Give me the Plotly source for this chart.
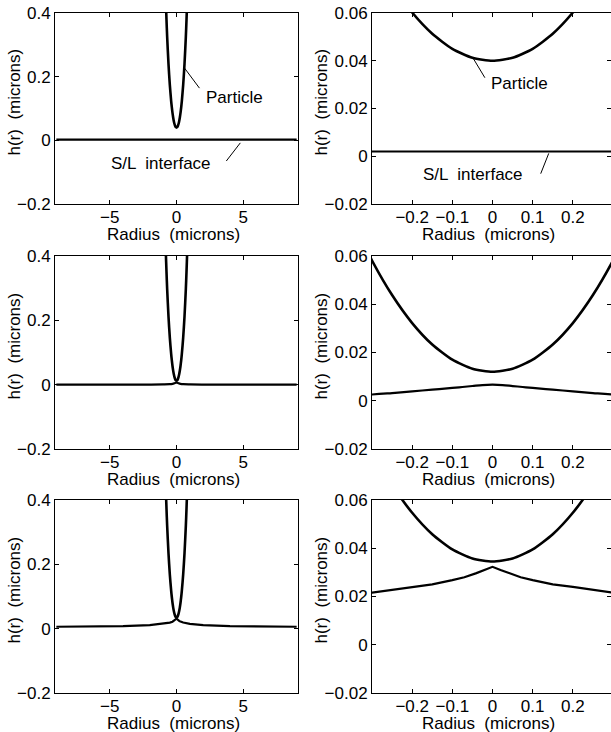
import plotly.graph_objects as go

# ---------------- data ----------------
# particle profile: radius (microns) and height above its lowest point (microns)
PARTICLE_R = [-0.85, -0.80, -0.75, -0.70, -0.60, -0.50, -0.40, -0.35, -0.30, -0.25, -0.20, -0.15, -0.10, -0.05,
              0.0, 0.05, 0.10, 0.15, 0.20, 0.25, 0.30, 0.35, 0.40, 0.50, 0.60, 0.70, 0.75, 0.80, 0.85]
PARTICLE_DEPTH = [0.473, 0.400, 0.339, 0.286, 0.200, 0.134, 0.0835, 0.0632, 0.0461, 0.0318, 0.0202, 0.0113, 0.0050, 0.00125,
                  0.0, 0.00125, 0.0050, 0.0113, 0.0202, 0.0318, 0.0461, 0.0632, 0.0835, 0.134, 0.200, 0.286, 0.339, 0.400, 0.473]
# lowest point of the particle in each row (microns)
PARTICLE_GAP = [0.040, 0.012, 0.0345]

# S/L interface, one profile per row
IFACE1_R = [-9.0, 0.0, 9.0]
IFACE1_H = [0.002, 0.002, 0.002]

IFACE2_R = [-9.0, -6.0, -4.0, -2.0, -1.0, -0.5, -0.3, -0.25, -0.2, -0.15, -0.1, -0.075, -0.05, -0.025, 0.0,
            0.025, 0.05, 0.075, 0.1, 0.15, 0.2, 0.25, 0.3, 0.5, 1.0, 2.0, 4.0, 6.0, 9.0]
IFACE2_H = [0.0, 0.0001, 0.0002, 0.0004, 0.0008, 0.0015, 0.0026, 0.0032, 0.0039, 0.0046, 0.0053, 0.0057, 0.0061, 0.0065, 0.0067,
            0.0065, 0.0061, 0.0057, 0.0053, 0.0046, 0.0039, 0.0032, 0.0026, 0.0015, 0.0008, 0.0004, 0.0002, 0.0001, 0.0]

IFACE3_R = [-9.0, -6.0, -4.0, -2.0, -1.0, -0.5, -0.3, -0.25, -0.2, -0.15, -0.1, -0.07, -0.04, -0.02, 0.0,
            0.02, 0.04, 0.07, 0.1, 0.15, 0.2, 0.25, 0.3, 0.5, 1.0, 2.0, 4.0, 6.0, 9.0]
IFACE3_H = [0.006, 0.007, 0.008, 0.011, 0.015, 0.019, 0.0216, 0.0228, 0.0240, 0.0250, 0.0268, 0.0280, 0.0297, 0.0310, 0.0323,
            0.0310, 0.0297, 0.0280, 0.0268, 0.0250, 0.0240, 0.0228, 0.0216, 0.019, 0.015, 0.011, 0.008, 0.007, 0.006]

IFACES = [(IFACE1_R, IFACE1_H, "linear"), (IFACE2_R, IFACE2_H, "spline"), (IFACE3_R, IFACE3_H, "linear")]

LEFT_XTICKS = [-5, 0, 5]
LEFT_XTICKTEXT = ["\u22125", "0", "5"]
LEFT_YTICKS = [-0.2, 0, 0.2, 0.4]
LEFT_YTICKTEXT = ["\u22120.2", "0", "0.2", "0.4"]
RIGHT_XTICKS = [-0.2, -0.1, 0, 0.1, 0.2]
RIGHT_XTICKTEXT = ["\u22120.2", "\u22120.1", "0", "0.1", "0.2"]
RIGHT_YTICKS = [-0.02, 0, 0.02, 0.04, 0.06]
RIGHT_YTICKTEXT = ["\u22120.02", "0", "0.02", "0.04", "0.06"]

X_TITLE = "Radius  (microns)"
Y_TITLE = "h(r)  (microns)"

# ---------------- layout geometry ----------------
W, H = 611, 732
FONT = "Liberation Sans, Arial, Helvetica, sans-serif"
FS = 17

left_px = (55, 298)
right_px = (372, 613)
rows_px = [(13, 204), (256, 449), (500, 693)]
ytitle_x = [14, 321]


def xdom(px):
    return [px[0] / W, min(px[1] / W, 1.0)]


def ydom(py):
    return [1 - py[1] / H, 1 - py[0] / H]


fig = go.Figure()
layout = dict(
    width=W, height=H, margin=dict(l=0, r=0, t=0, b=0, pad=0, autoexpand=False),
    paper_bgcolor="white", plot_bgcolor="white", showlegend=False,
    font=dict(family=FONT, size=FS, color="black"),
)

annotations = []
shapes = []

axis_common = dict(showgrid=False, zeroline=False, showline=True, linecolor="black", linewidth=1,
                   mirror="ticks", ticks="inside", ticklen=4, tickcolor="black", tickwidth=1,
                   automargin=False, ticklabeloverflow="allow",
                   tickfont=dict(family=FONT, size=FS, color="black"), fixedrange=True)

for row in range(3):
    for col in range(2):
        idx = row * 2 + col + 1
        xa = "x" if idx == 1 else f"x{idx}"
        ya = "y" if idx == 1 else f"y{idx}"
        xkey = "xaxis" if idx == 1 else f"xaxis{idx}"
        ykey = "yaxis" if idx == 1 else f"yaxis{idx}"
        px = left_px if col == 0 else right_px
        py = rows_px[row]
        if col == 0:
            xr, yr = [-9.1, 9.1], [-0.2, 0.4]
            xt, xtt, yt, ytt = LEFT_XTICKS, LEFT_XTICKTEXT, LEFT_YTICKS, LEFT_YTICKTEXT
        else:
            xr, yr = [-0.3, 0.295], [-0.02, 0.06]
            xt, xtt, yt, ytt = RIGHT_XTICKS, RIGHT_XTICKTEXT, RIGHT_YTICKS, RIGHT_YTICKTEXT
        layout[xkey] = dict(axis_common, domain=xdom(px), range=xr, anchor=ya,
                            tickvals=xt, ticktext=xtt, ticklabelstandoff=-2)
        layout[ykey] = dict(axis_common, domain=ydom(py), range=yr, anchor=xa,
                            tickvals=yt, ticktext=ytt)

        # particle
        hp = [PARTICLE_GAP[row] + d for d in PARTICLE_DEPTH]
        fig.add_trace(go.Scatter(x=PARTICLE_R, y=hp, mode="lines", xaxis=xa, yaxis=ya,
                                 line=dict(color="black", width=2.6, shape="spline", smoothing=0.6),
                                 hoverinfo="skip"))
        # interface
        ir, ih, shp = IFACES[row]
        fig.add_trace(go.Scatter(x=ir, y=ih, mode="lines", xaxis=xa, yaxis=ya,
                                 line=dict(color="black", width=2.2, shape=shp),
                                 hoverinfo="skip"))

        # axis titles
        annotations.append(dict(text=X_TITLE, xref="paper", yref="paper",
                                x=((px[0] + min(px[1], W)) / 2 - 3) / W, y=1 - (py[1] + 30) / H,
                                showarrow=False, xanchor="center", yanchor="middle",
                                font=dict(family=FONT, size=FS, color="black")))
        annotations.append(dict(text=Y_TITLE, xref="paper", yref="paper",
                                x=ytitle_x[col] / W, y=1 - ((py[0] + py[1]) / 2 - 6) / H, textangle=-90,
                                showarrow=False, xanchor="center", yanchor="middle",
                                font=dict(family=FONT, size=FS, color="black")))

# labels with leader lines (top row)
labels = [
    ("x", "y", "Particle", 4.33, 0.133, (0.6, 0.227, 1.72, 0.164)),
    ("x", "y", "S/L  interface", -1.19, -0.074, (3.73, -0.065, 4.78, -0.008)),
    ("x2", "y2", "Particle", 0.066, 0.0304, (-0.048, 0.041, -0.019, 0.0329)),
    ("x2", "y2", "S/L  interface", -0.048, -0.0077, (0.120, -0.0073, 0.140, 0.0012)),
]
for xa, ya, txt, tx, ty, (x0, y0, x1, y1) in labels:
    annotations.append(dict(text=txt, xref=xa, yref=ya, x=tx, y=ty, showarrow=False,
                            xanchor="center", yanchor="middle",
                            font=dict(family=FONT, size=FS, color="black")))
    shapes.append(dict(type="line", xref=xa, yref=ya, x0=x0, y0=y0, x1=x1, y1=y1,
                       line=dict(color="black", width=1)))

layout["annotations"] = annotations
layout["shapes"] = shapes
fig.update_layout(**layout)
# drop the browser's default 8px page margin so the figure fills the window exactly
fig.write_html("out.html", config={"displayModeBar": False},
               post_script="document.body.style.margin='0';")
